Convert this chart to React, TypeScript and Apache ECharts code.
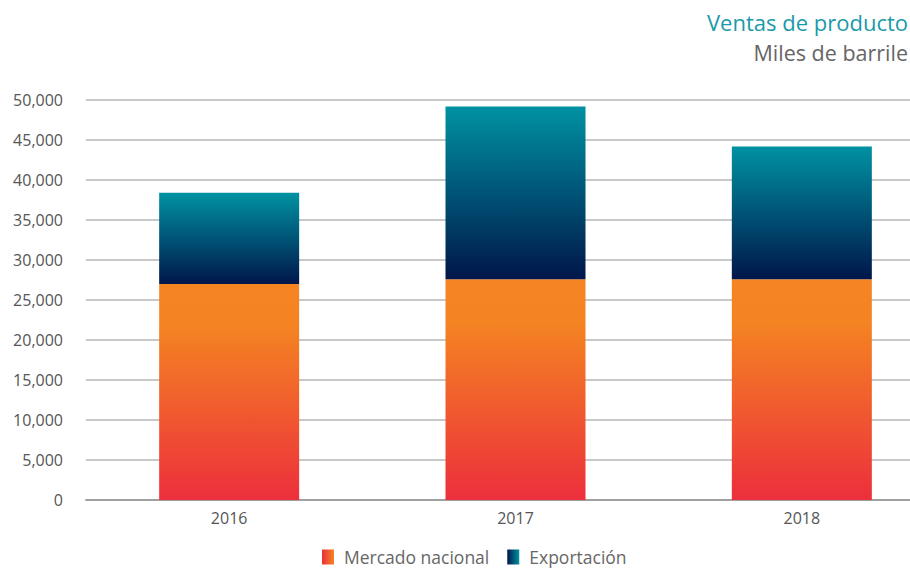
import React, { useEffect, useRef } from "react";
import * as echarts from "echarts";

const years = ["2016", "2017", "2018"];
const mercadoNacional = [27000, 27600, 27600];
const exportacion = [11400, 21600, 16600];
const titleText = "Ventas de producto";
const subtitleText = "Miles de barrile";

const FONT = "'Open Sans', 'Noto Sans', sans-serif";
const W = 960;
const EXTRA = W - 910;

export default function App() {
  const ref = useRef<HTMLDivElement>(null);
  useEffect(() => {
    if (!ref.current) return;
    const chart = echarts.init(ref.current, undefined, { renderer: "svg" });
    const orange = new echarts.graphic.LinearGradient(0, 0, 0, 1, [
      { offset: 0, color: "#f58522" },
      { offset: 0.2, color: "#f48322" },
      { offset: 1, color: "#ec2f3c" },
    ]);
    const teal = new echarts.graphic.LinearGradient(0, 0, 0, 1, [
      { offset: 0, color: "#0092a2" },
      { offset: 1, color: "#00164a" },
    ]);
    const orangeIcon = new echarts.graphic.LinearGradient(0, 0, 1, 0, [
      { offset: 0, color: "#ec2f3c" },
      { offset: 1, color: "#f58522" },
    ]);
    const tealIcon = new echarts.graphic.LinearGradient(0, 0, 1, 0, [
      { offset: 0, color: "#00164a" },
      { offset: 1, color: "#0092a2" },
    ]);
    chart.setOption({
      animation: false,
      title: [
        {
          text: titleText,
          right: EXTRA + 2,
          top: 11,
          padding: 0,
          textStyle: { color: "#1a9aa8", fontSize: 22, fontWeight: "normal", fontFamily: FONT },
        },
        {
          text: subtitleText,
          right: EXTRA + 2,
          top: 41,
          padding: 0,
          textStyle: { color: "#666666", fontSize: 21.5, fontWeight: "normal", fontFamily: FONT },
        },
      ],
      legend: {
        top: 548,
        left: 322,
        padding: 0,
        icon: "rect",
        itemWidth: 12,
        itemHeight: 15,
        itemGap: 18,
        textStyle: { color: "#666666", fontSize: 17.5, lineHeight: 18, fontFamily: FONT, padding: [0, 0, 0, 5] },
        data: [
          { name: "Mercado nacional", itemStyle: { color: orangeIcon } },
          { name: "Exportación", itemStyle: { color: tealIcon } },
        ],
      },
      grid: { left: 86, top: 100, width: 859, height: 400, containLabel: false },
      xAxis: {
        type: "category",
        data: years,
        axisTick: { show: false },
        axisLine: { lineStyle: { color: "#a0a0a0", width: 2 } },
        axisLabel: { color: "#555555", fontSize: 16, fontFamily: FONT, margin: 10 },
      },
      yAxis: {
        type: "value",
        min: 0,
        max: 50000,
        interval: 5000,
        axisLine: { show: false },
        axisTick: { show: false },
        axisLabel: {
          color: "#555555",
          fontSize: 16,
          fontFamily: FONT,
          margin: 23,
          formatter: (v: number) => v.toLocaleString("en-US"),
        },
        splitLine: { lineStyle: { color: "#c8c8c8", width: 2 } },
      },
      series: [
        {
          name: "Mercado nacional",
          type: "bar",
          stack: "total",
          barWidth: 140,
          data: mercadoNacional,
          itemStyle: { color: orange },
        },
        {
          name: "Exportación",
          type: "bar",
          stack: "total",
          barWidth: 140,
          data: exportacion,
          itemStyle: { color: teal },
        },
      ],
    });
    return () => chart.dispose();
  }, []);
  return (
    <div
      style={{ position: "fixed", left: 0, top: 0, width: 910, height: 569, overflow: "hidden", background: "#fff" }}
    >
      <div ref={ref} style={{ width: W, height: 569 }} />
    </div>
  );
}
